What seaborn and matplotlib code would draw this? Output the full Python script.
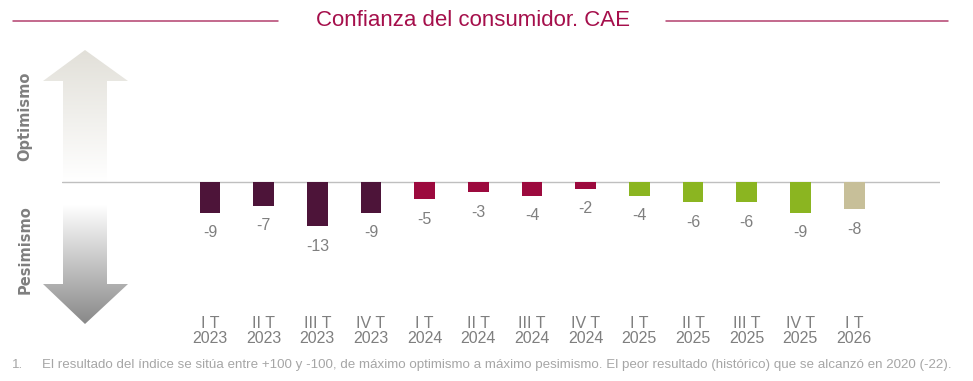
import matplotlib
matplotlib.use("Agg")
import matplotlib.pyplot as plt
from matplotlib.patches import Polygon
import seaborn as sns
import numpy as np
import pandas as pd

# ── Datos ────────────────────────────────────────────────────────────────────
trimestres = ["I T", "II T", "III T", "IV T",
              "I T", "II T", "III T", "IV T",
              "I T", "II T", "III T", "IV T",
              "I T"]
anios = ["2023"] * 4 + ["2024"] * 4 + ["2025"] * 4 + ["2026"]
valores = [-9, -7, -13, -9, -5, -3, -4, -2, -4, -6, -6, -9, -8]
colores_anio = {"2023": "#4D1439", "2024": "#9C0A3E",
                "2025": "#8BB521", "2026": "#C7BF99"}

titulo = "Confianza del consumidor. CAE"
nota = ("El resultado del índice se sitúa entre +100 y -100, de máximo optimismo "
        "a máximo pesimismo. El peor resultado (histórico) que se alcanzó en 2020 (-22).")

GRIS = "#7F7F7F"
W, H = 973, 381

sns.set_theme(style="white")
plt.rcParams["font.family"] = ["Liberation Sans Narrow", "Liberation Sans", "DejaVu Sans"]

df = pd.DataFrame({
    "etiqueta": [f"{t}\n{a}" for t, a in zip(trimestres, anios)],
    "anio": anios,
    "valor": valores,
})

fig = plt.figure(figsize=(W / 100, H / 100), dpi=100)

# ── Capa de fondo en píxeles (título, flechas, nota) ─────────────────────────
ov = fig.add_axes([0, 0, 1, 1], zorder=0)
ov.set_xlim(0, W)
ov.set_ylim(H, 0)
ov.axis("off")

ov.text(473, 21, titulo, color="#A50F4B", fontsize=16, ha="center", va="center")
ov.plot([13, 278], [21, 21], color="#B3406D", lw=1.1)
ov.plot([666, 948], [21, 21], color="#B3406D", lw=1.1)


def flecha(puntos, y0, y1, c0, c1):
    poly = Polygon(puntos, closed=True, facecolor="none", edgecolor="none")
    ov.add_patch(poly)
    n = 200
    c0 = np.array(matplotlib.colors.to_rgb(c0))
    c1 = np.array(matplotlib.colors.to_rgb(c1))
    t = np.linspace(0, 1, n)[:, None]
    grad = (c0 * (1 - t) + c1 * t)[:, None, :]
    im = ov.imshow(grad, extent=[40, 131, y1, y0], origin="upper",
                   aspect="auto", interpolation="bilinear")
    im.set_clip_path(poly)


# flecha hacia arriba (optimismo): gris claro arriba, blanco abajo
flecha([(85, 50), (128, 81), (107, 81), (107, 182), (63, 182), (63, 81), (43, 81)],
       50, 182, "#E2E0D9", "#FFFFFF")
# flecha hacia abajo (pesimismo): blanco arriba, gris abajo
flecha([(63, 205), (107, 205), (107, 284), (128, 284), (85, 324), (43, 284), (63, 284)],
       205, 324, "#FFFFFF", "#888888")
ov.set_xlim(0, W)
ov.set_ylim(H, 0)

ov.text(25, 116, "Optimismo", rotation=90, color=GRIS, fontsize=10.5,
        fontweight="bold", ha="center", va="center", family=["DejaVu Sans"])
ov.text(25, 250, "Pesimismo", rotation=90, color=GRIS, fontsize=10.5,
        fontweight="bold", ha="center", va="center", family=["DejaVu Sans"])

ov.text(12, 365, "1.", color="#A6A6A6", fontsize=9.6, va="center")
ov.text(42, 365, nota, color="#A6A6A6", fontsize=9.6, va="center")

# ── Gráfico de barras ────────────────────────────────────────────────────────
px_top, px_bot, base = 60, 305, 182
escala = 3.4  # píxeles por punto del índice
ax = fig.add_axes([62 / W, (H - px_bot) / H, (940 - 62) / W, (px_bot - px_top) / H], zorder=1)
ax.patch.set_alpha(0)

sns.barplot(data=df, x="etiqueta", y="valor", hue="anio", palette=colores_anio,
            dodge=False, width=0.39, legend=False, linewidth=0, saturation=1, ax=ax)

ax.axhline(0, color="#BFBFBF", lw=1, zorder=0)
ax.set_ylim(-(px_bot - base) / escala, (base - px_top) / escala)
paso = 53.67
ax.set_xlim(-(210 - 62) / paso, (940 - 210) / paso)

for cont in ax.containers:
    ax.bar_label(cont, fmt="%d", padding=9, color=GRIS, fontsize=11.5)

ax.set_xlabel("")
ax.set_ylabel("")
ax.set_yticks([])
ax.tick_params(axis="x", length=0, pad=8, labelsize=11.5, labelcolor=GRIS)
for lab in ax.get_xticklabels():
    lab.set_linespacing(1.0)
sns.despine(ax=ax, left=True, bottom=True)

fig.savefig("out.png", dpi=100)
